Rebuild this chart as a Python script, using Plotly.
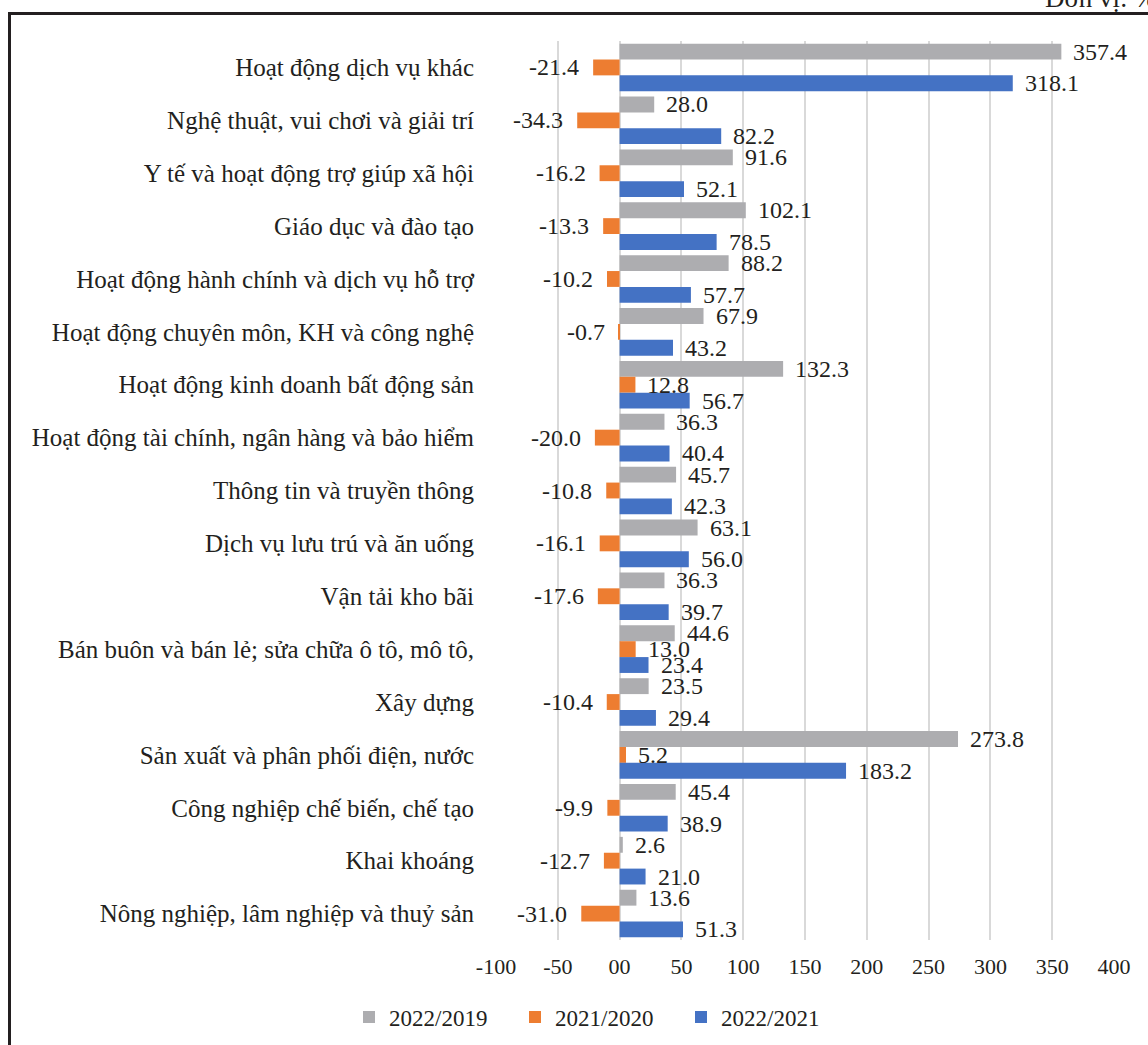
import plotly.graph_objects as go

categories = [
    "Hoạt động dịch vụ khác",
    "Nghệ thuật, vui chơi và giải trí",
    "Y tế và hoạt động trợ giúp xã hội",
    "Giáo dục và đào tạo",
    "Hoạt động hành chính và dịch vụ hỗ trợ",
    "Hoạt động chuyên môn, KH và công nghệ",
    "Hoạt động kinh doanh bất động sản",
    "Hoạt động tài chính, ngân hàng và bảo hiểm",
    "Thông tin và truyền thông",
    "Dịch vụ lưu trú và ăn uống",
    "Vận tải kho bãi",
    "Bán buôn và bán lẻ; sửa chữa ô tô, mô tô,",
    "Xây dựng",
    "Sản xuất và phân phối điện, nước",
    "Công nghiệp chế biến, chế tạo",
    "Khai khoáng",
    "Nông nghiệp, lâm nghiệp và thuỷ sản",
]
s_2022_2019 = [357.4, 28.0, 91.6, 102.1, 88.2, 67.9, 132.3, 36.3, 45.7, 63.1, 36.3, 44.6, 23.5, 273.8, 45.4, 2.6, 13.6]
s_2021_2020 = [-21.4, -34.3, -16.2, -13.3, -10.2, -0.7, 12.8, -20.0, -10.8, -16.1, -17.6, 13.0, -10.4, 5.2, -9.9, -12.7, -31.0]
s_2022_2021 = [318.1, 82.2, 52.1, 78.5, 57.7, 43.2, 56.7, 40.4, 42.3, 56.0, 39.7, 23.4, 29.4, 183.2, 38.9, 21.0, 51.3]
series_names = ["2022/2019", "2021/2020", "2022/2021"]
x_tickvals = [-100, -50, 0, 50, 100, 150, 200, 250, 300, 350, 400]
x_ticktext = ["-100", "-50", "00", "50", "100", "150", "200", "250", "300", "350", "400"]
unit_text = "Đơn vị: %"

colors = ["#ADADB0", "#ED7D31", "#4472C4"]
FONT = "Liberation Serif, Times New Roman, serif"
TXT = "#231F20"

W, H = 1148, 1045
ML, MR, MT, MB = 496, 34, 41, 105
PW, PH = W - ML - MR, H - MT - MB

def px_x(px):
    return (px - ML) / PW

def px_y(py):
    return (H - MB - py) / PH

ypos = list(range(len(categories)))
all_series = [s_2022_2019, s_2021_2020, s_2022_2021]
BARGAP = 0.1
bw = (1 - BARGAP) / 3

fig = go.Figure()
for name, vals, col in zip(series_names, all_series, colors):
    fig.add_trace(go.Bar(
        x=vals, y=ypos, orientation="h", name=name,
        marker=dict(color=col, line=dict(width=0)),
    ))

annotations = []
for k, vals in enumerate(all_series):
    off = (k - 1) * bw
    for i, v in enumerate(vals):
        annotations.append(dict(
            x=v, y=i + off, xref="x", yref="y",
            text=f"{v:.1f}", showarrow=False,
            xanchor="left" if v >= 0 else "right",
            xshift=10 if v >= 0 else -12,
            font=dict(family=FONT, size=24, color=TXT),
        ))

annotations.append(dict(
    x=px_x(1043), y=px_y(15), xref="paper", yref="paper",
    text=unit_text, showarrow=False, xanchor="left", yanchor="bottom",
    font=dict(family=FONT, size=27, color=TXT),
))

fig.update_layout(
    width=W, height=H,
    margin=dict(l=ML, r=MR, t=MT, b=MB, pad=0, autoexpand=False),
    paper_bgcolor="white", plot_bgcolor="white",
    barmode="group", bargap=BARGAP, bargroupgap=0,
    font=dict(family=FONT, size=23, color=TXT),
    showlegend=True,
    legend=dict(
        orientation="h", x=(349) / W, xref="container",
        y=1 - 1017 / H, yref="container", xanchor="left", yanchor="middle",
        font=dict(family=FONT, size=23, color=TXT),
        entrywidth=121, entrywidthmode="pixels",
        traceorder="normal", bgcolor="rgba(0,0,0,0)",
    ),
    annotations=annotations,
    shapes=[dict(
        type="rect", xref="paper", yref="paper",
        x0=px_x(9.5), x1=px_x(1160), y0=px_y(1060), y1=px_y(13.5),
        line=dict(color="#231F20", width=3), fillcolor="rgba(0,0,0,0)", layer="above",
    )],
)
fig.update_xaxes(
    range=[-100, 400], tickvals=x_tickvals, ticktext=x_ticktext,
    showgrid=True, gridcolor="#D9D9D9", gridwidth=2,
    zeroline=False, showline=False, ticks="", automargin=False,
    tickfont=dict(family=FONT, size=22, color=TXT),
    ticklabelstandoff=11,
)
fig.update_yaxes(
    range=[len(categories) - 0.5, -0.5],
    tickvals=ypos, ticktext=categories,
    showgrid=False, zeroline=False, showline=False, ticks="", automargin=False,
    tickfont=dict(family=FONT, size=25, color=TXT),
    ticklabelstandoff=21,
)

fig.write_html(
    "out.html",
    config={"displayModeBar": False},
    post_script="document.body.style.margin='0';document.body.style.padding='0';document.body.style.overflow='hidden';",
)
